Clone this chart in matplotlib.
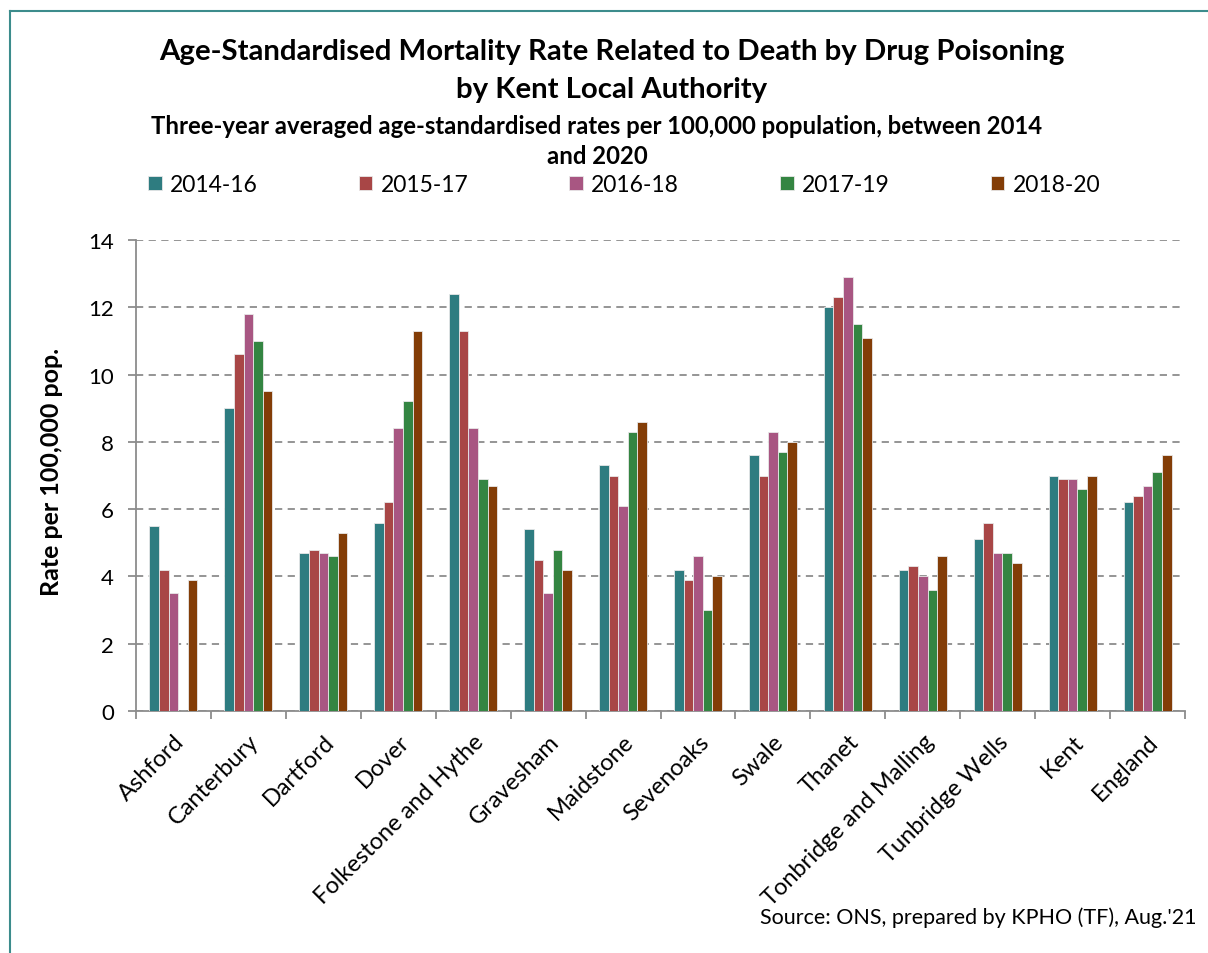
import numpy as np
import matplotlib
matplotlib.use("Agg")
import matplotlib.pyplot as plt
from matplotlib.lines import Line2D

categories = ["Ashford", "Canterbury", "Dartford", "Dover", "Folkestone and Hythe",
              "Gravesham", "Maidstone", "Sevenoaks", "Swale", "Thanet",
              "Tonbridge and Malling", "Tunbridge Wells", "Kent", "England"]
series_names = ["2014-16", "2015-17", "2016-18", "2017-19", "2018-20"]
v_2014_16 = [5.5, 9.0, 4.7, 5.6, 12.4, 5.4, 7.3, 4.2, 7.6, 12.0, 4.2, 5.1, 7.0, 6.2]
v_2015_17 = [4.2, 10.6, 4.8, 6.2, 11.3, 4.5, 7.0, 3.9, 7.0, 12.3, 4.3, 5.6, 6.9, 6.4]
v_2016_18 = [3.5, 11.8, 4.7, 8.4, 8.4, 3.5, 6.1, 4.6, 8.3, 12.9, 4.0, 4.7, 6.9, 6.7]
v_2017_19 = [np.nan, 11.0, 4.6, 9.2, 6.9, 4.8, 8.3, 3.0, 7.7, 11.5, 3.6, 4.7, 6.6, 7.1]
v_2018_20 = [3.9, 9.5, 5.3, 11.3, 6.7, 4.2, 8.6, 4.0, 8.0, 11.1, 4.6, 4.4, 7.0, 7.6]
series = [v_2014_16, v_2015_17, v_2016_18, v_2017_19, v_2018_20]
colors = ["#2E7C80", "#A84646", "#A85682", "#348542", "#833D07"]
y_ticks = [0, 2, 4, 6, 8, 10, 12, 14]

plt.rcParams['font.family'] = ['Lato', 'DejaVu Sans']

W, H = 1208, 954
fig = plt.figure(figsize=(W/100, H/100), dpi=100)

# outer frame
fig.add_artist(Line2D([10/W, 10/W], [0, 1 - 12/H], transform=fig.transFigure, color="#3C8C8C", lw=1.5))
fig.add_artist(Line2D([10/W, 1], [1 - 12/H, 1 - 12/H], transform=fig.transFigure, color="#3C8C8C", lw=1.5))

ax = fig.add_axes([136/W, 1 - 712/H, (1185-136)/W, (712-241)/H])

n = len(categories)
x = np.arange(n)
bw = 0.128
for i, (vals, c, name) in enumerate(zip(series, colors, series_names)):
    ax.bar(x + (i - 2) * bw, vals, width=bw, color=c, edgecolor="#E8E8E8",
           linewidth=0.6, label=name, zorder=3)

ax.set_xlim(-0.5, n - 0.5)
ax.set_ylim(0, 14)
ax.set_yticks(y_ticks)
ax.set_yticklabels([str(t) for t in y_ticks], fontsize=16)
ax.yaxis.grid(True, linestyle=(0, (4, 3)), color="#8C8C8C", linewidth=1.3, zorder=0)
ax.set_axisbelow(True)

ax.set_xticks(np.arange(-0.5, n, 1.0))
ax.set_xticklabels([])
ax.set_xticks(x, minor=True)
ax.set_xticklabels(categories, minor=True, rotation=45, ha="right", rotation_mode="anchor", fontsize=17)
ax.tick_params(axis="x", which="minor", length=0, pad=14)
ax.tick_params(axis="x", which="major", length=6, color="#8C8C8C", width=1.3, direction="out")
ax.tick_params(axis="y", length=6, color="#8C8C8C", width=1.3, direction="out", pad=10)

for s in ["top", "right"]:
    ax.spines[s].set_visible(False)
for s in ["left", "bottom"]:
    ax.spines[s].set_color("#8C8C8C")
    ax.spines[s].set_linewidth(1.3)

ax.set_ylabel("Rate per 100,000 pop.", fontsize=18, fontweight="bold")
ax.yaxis.set_label_coords(52/W, 0.5, transform=fig.transFigure)
ax.yaxis.label.set_va("center")
ax.yaxis.label.set_position((52/W, 1 - 472/H))

fig.text(612/W, 1 - 52/H, "Age-Standardised Mortality Rate Related to Death by Drug Poisoning",
         ha="center", va="center", fontsize=21.2, fontweight="bold")
fig.text(612/W, 1 - 90/H, "by Kent Local Authority",
         ha="center", va="center", fontsize=21.2, fontweight="bold")
fig.text(597/W, 1 - 127/H, "Three-year averaged age-standardised rates per 100,000 population, between 2014",
         ha="center", va="center", fontsize=17.2, fontweight="bold")
fig.text(597/W, 1 - 157/H, "and 2020",
         ha="center", va="center", fontsize=17.2, fontweight="bold")

leg = ax.legend(loc="center left", bbox_to_anchor=(148/W, 1 - 186/H, 952/W, 0.001),
                bbox_transform=fig.transFigure, mode="expand", ncol=5, frameon=False,
                fontsize=16.5, handlelength=0.6, handleheight=0.6, handletextpad=0.35,
                borderaxespad=0, borderpad=0)

fig.text(1196/W, 1 - 918/H, "Source: ONS, prepared by KPHO (TF), Aug.'21",
         ha="right", va="center", fontsize=15.5)

fig.savefig("out.png", dpi=100, facecolor="white")
